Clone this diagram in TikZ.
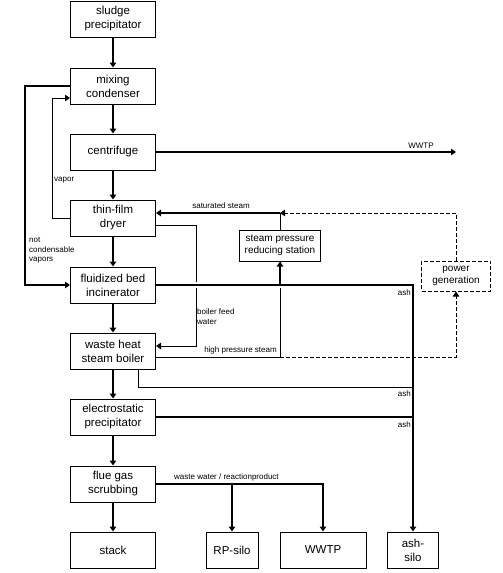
\documentclass[tikz,border=0pt]{standalone}
\usepackage{fontspec}
\setmainfont{Liberation Sans}
\usetikzlibrary{arrows.meta}
\begin{document}
\begin{tikzpicture}[x=1pt,y=-1pt,
  box/.style={draw,line width=1pt,minimum width=85pt,minimum height=36pt,inner sep=1pt,align=center,font=\fontsize{11.5}{14}\selectfont},
  smallbox/.style={box,minimum width=81pt,minimum height=31pt,font=\fontsize{10}{11.7}\selectfont},
  flow/.style={line width=1.9pt,-{Triangle[length=5pt,width=6.5pt]}},
  pipe/.style={line width=0.9pt},
  gap/.style={white,line width=6pt},
  lbl/.style={inner sep=0pt,align=left,font=\fontsize{8}{9.5}\selectfont}]
\useasboundingbox (0,0) rectangle (503,573);
\node[box] (sludge) at (113,19) {sludge\\precipitator};
\node[box] (mixer) at (113,86) {mixing\\condenser};
\node[box] (centrifuge) at (113,152) {centrifuge};
\node[box] (dryer) at (113,218) {thin-film\\dryer};
\node[box] (incinerator) at (113,285) {fluidized bed\\incinerator};
\node[box] (boiler) at (113,351) {waste heat\\steam boiler};
\node[box] (esp) at (113,417) {electrostatic\\precipitator};
\node[box] (scrubber) at (113,484) {flue gas\\scrubbing};
\node[box] (stack) at (113,550) {stack};
\node[box,minimum width=52pt] (rpsilo) at (232,550) {RP-silo};
\node[box,minimum width=86pt] (wwtp) at (323,550) {WWTP};
\node[box,minimum width=51pt] (ashsilo) at (413,550) {ash-\\silo};
\node[smallbox] (station) at (280,245.5) {steam pressure\\reducing station};
\node[smallbox,dash pattern=on 4pt off 2pt,minimum width=69pt,minimum height=30pt] (power) at (456,276) {power\\generation};
\coordinate (wwtpout) at (456,152);
\coordinate (steamjoin) at (280,213);
\coordinate (hpjoin) at (280,357);
\coordinate (ashjoin) at (413,387);
\foreach \from/\to in {sludge/mixer,mixer/centrifuge,centrifuge/dryer,dryer/incinerator,incinerator/boiler,boiler/esp,esp/scrubber,scrubber/stack}
  \draw[flow] (\from.south) -- (\to.north);
\draw[flow] (mixer.west) -- ++(-45,0) |- (incinerator.west);
\draw[pipe,-{Triangle[length=5pt,width=6.5pt]}] (dryer.west) -- ++(-18,0) |- ([yshift=-12pt]mixer.west);
\draw[flow] (centrifuge.east) -- (wwtpout);
\draw[flow] (steamjoin) -- ([yshift=5pt]dryer.east);
\draw[pipe] (station.north) -- (steamjoin);
\draw[pipe,dash pattern=on 4pt off 2pt,-{Triangle[length=5pt,width=6.5pt]}] (power.north) |- (steamjoin);
\draw[pipe,-{Triangle[length=5pt,width=6.5pt]}] ([yshift=-7pt]dryer.east) -- ++(40,0) |- ([yshift=5pt]boiler.east);
\draw[pipe] ([yshift=-6pt]boiler.east) -- (hpjoin) -- (station.south);
\draw[gap] ([xshift=30pt]incinerator.east) -- ([xshift=-100pt]ashsilo.north |- incinerator.east);
\draw[flow,-] (incinerator.east) -| (ashsilo.north |- esp.east);
\draw[flow] (ashsilo.north |- esp.east) -- (ashsilo.north);
\draw[flow] ([yshift=-23pt]station.south) -- (station.south);
\draw[pipe,dash pattern=on 4pt off 2pt,-{Triangle[length=5pt,width=6.5pt]}] (hpjoin) -| (power.south);
\draw[pipe] ([xshift=25pt]boiler.south) |- (ashjoin);
\draw[flow,-] (esp.east) -- (ashsilo.north |- esp.east);
\draw[flow] (scrubber.east) -| (wwtp.north);
\draw[flow] (rpsilo.north |- scrubber.east) -- (rpsilo.north);
\node[lbl,anchor=west] (lvapor) at (54,180) {vapor};
\node[lbl,anchor=west] (lnotcond) at (29,250.5) {not\\condensable\\vapors};
\node[lbl] (lwwtp) at (421,146) {WWTP};
\node[lbl] (lsat) at (221,206) {saturated steam};
\node[lbl,anchor=west] (lfeed) at (197,316.5) {boiler feed\\water};
\node[lbl,anchor=east] (lashone) at (411,293) {ash};
\node[lbl] (lhp) at (240.5,350) {high pressure steam};
\node[lbl,anchor=east] (lashtwo) at (411,394) {ash};
\node[lbl,anchor=east] (lashthree) at (411,425) {ash};
\node[lbl,anchor=west] (lwaste) at (174,477) {waste water / reactionproduct};
\end{tikzpicture}
\end{document}
